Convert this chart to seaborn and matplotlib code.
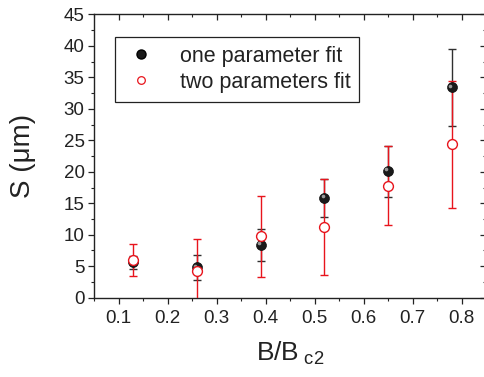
import matplotlib
matplotlib.use("Agg")
import numpy as np
import pandas as pd
import matplotlib.pyplot as plt
import matplotlib.transforms as mtrans
import seaborn as sns
from matplotlib.ticker import MultipleLocator, FixedLocator
from matplotlib.lines import Line2D

# Reduced field B/Bc2 and fitted length S (um) with uncertainties
field = [0.13, 0.26, 0.39, 0.52, 0.65, 0.78]
s_one = [5.6, 4.8, 8.4, 15.8, 20.1, 33.4]
err_one = [1.0, 2.0, 2.5, 3.0, 4.05, 6.1]
s_two = [6.0, 4.3, 9.75, 11.25, 17.8, 24.35]
err_two = [2.5, 5.0, 6.4, 7.6, 6.3, 10.1]
labels = ["one parameter fit", "two parameters fit"]
x_ticks = [0.1, 0.2, 0.3, 0.4, 0.5, 0.6, 0.7, 0.8]
y_ticks = [0, 5, 10, 15, 20, 25, 30, 35, 40, 45]

sns.set_style("ticks")
plt.rcParams["font.family"] = ["Liberation Sans", "DejaVu Sans"]
plt.rcParams["mathtext.fontset"] = "custom"
plt.rcParams["mathtext.rm"] = "Liberation Sans"
plt.rcParams["mathtext.it"] = "Liberation Sans"

df = pd.DataFrame({"B": field, "S1": s_one, "E1": err_one,
                   "S2": s_two, "E2": err_two})

RED = "#e8141c"
DARK = "#1a1a1a"

fig = plt.figure(figsize=(4.84, 3.77), dpi=100)
ax = fig.add_axes([0.1948, 0.2103, 0.8093, 0.7517])

# error bars: one-parameter fit first, two-parameter fit on top
ax.errorbar(df["B"], df["S1"], yerr=df["E1"], fmt="none", ecolor="#303030",
            elinewidth=1.0, capsize=3.2, capthick=1.0, zorder=2)
ax.errorbar(df["B"], df["S2"], yerr=df["E2"], fmt="none", ecolor=RED,
            elinewidth=1.0, capsize=3.2, capthick=1.0, zorder=3)

# shaded spheres for the one-parameter fit
sns.scatterplot(data=df, x="B", y="S1", ax=ax, color=DARK, s=52,
                edgecolor="#000000", linewidth=0.4, zorder=4, legend=False)
hl = ax.transData + mtrans.ScaledTranslation(-1.3 / 72, 1.3 / 72, fig.dpi_scale_trans)
ax.plot(df["B"], df["S1"], ls="none", marker="o", ms=2.6, color="#9a9a9a",
        mec="none", transform=hl, zorder=5)

# open circles for the two-parameter fit
sns.scatterplot(data=df, x="B", y="S2", ax=ax, facecolor="white",
                edgecolor=RED, s=50, linewidth=1.0, zorder=6, legend=False)

ax.set_xlim(0.05, 0.85)
ax.set_ylim(0, 45)
ax.xaxis.set_major_locator(FixedLocator(x_ticks))
ax.xaxis.set_minor_locator(MultipleLocator(0.05))
ax.yaxis.set_major_locator(FixedLocator(y_ticks))
ax.yaxis.set_minor_locator(MultipleLocator(2.5))
ax.set_xticklabels([f"{v:.1f}" for v in x_ticks])
ax.set_yticklabels([str(v) for v in y_ticks])

for sp in ax.spines.values():
    sp.set_visible(True)
    sp.set_linewidth(1.0)
    sp.set_color("#222222")

ax.tick_params(which="major", direction="out", length=4.0, width=0.9,
               labelsize=13.5, pad=3, colors="#222222", labelcolor="#222222")
ax.tick_params(which="minor", direction="out", length=2.3, width=0.8,
               colors="#222222")
ax.tick_params(axis="x", which="major", pad=5)

# mirrored inward ticks on top and right
top = ax.secondary_xaxis("top")
top.xaxis.set_major_locator(FixedLocator(x_ticks))
top.xaxis.set_minor_locator(MultipleLocator(0.05))
top.tick_params(which="major", direction="in", length=4.0, width=0.9, labeltop=False)
top.tick_params(which="minor", direction="in", length=2.3, width=0.8)
right = ax.secondary_yaxis("right")
right.yaxis.set_major_locator(FixedLocator(y_ticks))
right.yaxis.set_minor_locator(MultipleLocator(2.5))
right.tick_params(which="major", direction="in", length=4.0, width=0.9, labelright=False)
right.tick_params(which="minor", direction="in", length=2.3, width=0.8)
for sec in (top, right):
    for sp in sec.spines.values():
        sp.set_visible(False)

ax.set_xlabel(r"B/B$_{\mathregular{\ c2}}$", fontsize=19, color="#222222", labelpad=9)
ax.set_ylabel("S (\u03bcm)", fontsize=20, color="#222222", labelpad=20)

handles = [
    Line2D([], [], ls="none", marker="o", ms=6.5, color=DARK, mec="#000000"),
    Line2D([], [], ls="none", marker="o", ms=5.5, mfc="white", mec=RED, mew=0.9),
]
leg = ax.legend(handles, labels, loc="upper left", bbox_to_anchor=(0.053, 0.92),
                borderaxespad=0, fontsize=15.5, frameon=True, fancybox=False,
                edgecolor="#222222", framealpha=1, labelspacing=0.25,
                handletextpad=1.0, borderpad=0.4, handlelength=1.6)
leg.get_frame().set_linewidth(0.9)
for t in leg.get_texts():
    t.set_color("#222222")

fig.savefig("out.png", dpi=100)
